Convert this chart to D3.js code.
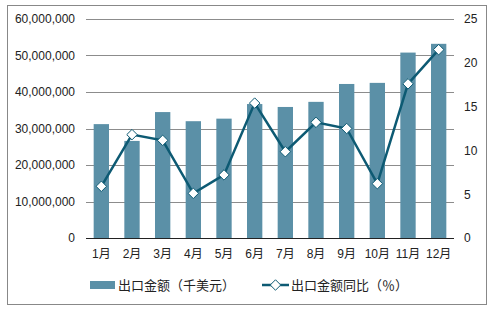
<!DOCTYPE html>
<html>
<head>
<meta charset="utf-8">
<script src="https://cdn.jsdelivr.net/npm/d3@7"></script>
<style>
  body { margin: 0; background: #fff; }
  text { font-family: Arial, "Liberation Sans", "Noto Sans CJK SC", sans-serif; fill: #222; }
  .legend-text { font-family: "Noto Sans CJK SC", sans-serif; }
</style>
</head>
<body>
<div id="chart"></div>
<script>
var months = ["1月", "2月", "3月", "4月", "5月", "6月", "7月", "8月", "9月", "10月", "11月", "12月"];
var exportValue = [31200000, 26600000, 34500000, 32000000, 32700000, 36700000, 35900000, 37300000, 42200000, 42500000, 50800000, 53200000];
var yoyGrowth = [5.9, 11.8, 11.15, 5.1, 7.2, 15.4, 9.85, 13.2, 12.5, 6.2, 17.6, 21.5];
var leftTicks = [0, 10000000, 20000000, 30000000, 40000000, 50000000, 60000000];
var rightTicks = [0, 5, 10, 15, 20, 25];
var barLabel = "出口金额（千美元）";
var lineLabel = "出口金额同比（％）";

var svgWidth = 491;
var svgHeight = 311;
var margin = { top: 19, right: 37, bottom: 73, left: 86 };
var width = svgWidth - margin.left - margin.right;
var height = svgHeight - margin.top - margin.bottom;

var barColor = "#5b90a7";
var lineColor = "#0d5a73";

var svg = d3.select("#chart")
  .append("svg")
  .attr("width", svgWidth)
  .attr("height", svgHeight);

// outer frame
svg.append("rect")
  .attr("x", 7.5)
  .attr("y", 5.5)
  .attr("width", 479)
  .attr("height", 299)
  .attr("fill", "none")
  .attr("stroke", "#888");

var chartGroup = svg.append("g")
  .attr("transform", `translate(${margin.left}, ${margin.top})`);

var x = d3.scaleBand()
  .domain(months)
  .range([0, width])
  .paddingInner(0.5)
  .paddingOuter(0.25);

var yLeft = d3.scaleLinear().domain([0, 60000000]).range([height, 0]);
var yRight = d3.scaleLinear().domain([0, 25]).range([height, 0]);

// gridlines
chartGroup.selectAll(".grid")
  .data(leftTicks.slice(1))
  .enter()
  .append("line")
  .attr("x1", 0)
  .attr("x2", width)
  .attr("y1", d => Math.round(yLeft(d)) + 0.5)
  .attr("y2", d => Math.round(yLeft(d)) + 0.5)
  .attr("stroke", "#8c8c8c")
  .attr("stroke-width", 1);

// left axis
var leftAxis = d3.axisLeft(yLeft)
  .tickValues(leftTicks)
  .tickSize(0)
  .tickPadding(11)
  .tickFormat(d3.format(","));
chartGroup.append("g")
  .call(leftAxis)
  .call(g => g.select(".domain").remove())
  .selectAll("text")
  .style("font-size", "12px");

// right axis
var rightAxis = d3.axisRight(yRight)
  .tickValues(rightTicks)
  .tickSize(0)
  .tickPadding(10);
chartGroup.append("g")
  .attr("transform", `translate(${width}, 0)`)
  .call(rightAxis)
  .call(g => g.select(".domain").remove())
  .selectAll("text")
  .style("font-size", "12px");

// bars
chartGroup.selectAll(".bar")
  .data(exportValue)
  .enter()
  .append("rect")
  .attr("x", (d, i) => x(months[i]))
  .attr("y", d => yLeft(d))
  .attr("width", x.bandwidth())
  .attr("height", d => height - yLeft(d))
  .attr("fill", barColor);

// baseline
chartGroup.append("line")
  .attr("x1", 0)
  .attr("x2", width)
  .attr("y1", height + 0.5)
  .attr("y2", height + 0.5)
  .attr("stroke", "#222")
  .attr("stroke-width", 1);

// x labels
var bottomAxis = d3.axisBottom(x).tickSize(0).tickPadding(11);
chartGroup.append("g")
  .attr("transform", `translate(0, ${height})`)
  .call(bottomAxis)
  .call(g => g.select(".domain").remove())
  .selectAll("text")
  .style("font-size", "12px");

// line
var line = d3.line()
  .x((d, i) => x(months[i]) + x.bandwidth() / 2)
  .y(d => yRight(d));

chartGroup.append("path")
  .datum(yoyGrowth)
  .attr("d", line)
  .attr("fill", "none")
  .attr("stroke", lineColor)
  .attr("stroke-width", 2.5);

var diamond = d3.symbol().type(d3.symbolDiamond2).size(70);
chartGroup.selectAll(".marker")
  .data(yoyGrowth)
  .enter()
  .append("path")
  .attr("d", diamond)
  .attr("transform", (d, i) => `translate(${x(months[i]) + x.bandwidth() / 2}, ${yRight(d)})`)
  .attr("fill", "#fff")
  .attr("stroke", lineColor)
  .attr("stroke-width", 1);

// legend
var legend = svg.append("g").attr("transform", "translate(0, 285)");
legend.append("rect")
  .attr("x", 90)
  .attr("y", -4)
  .attr("width", 25)
  .attr("height", 8)
  .attr("fill", barColor);
legend.append("text")
  .attr("class", "legend-text")
  .attr("x", 118)
  .attr("y", 0)
  .attr("dy", "0.35em")
  .style("font-size", "13px")
  .text(barLabel);

legend.append("line")
  .attr("x1", 262)
  .attr("x2", 289)
  .attr("y1", 0)
  .attr("y2", 0)
  .attr("stroke", lineColor)
  .attr("stroke-width", 2.5);
legend.append("path")
  .attr("d", diamond)
  .attr("transform", "translate(275.5, 0)")
  .attr("fill", "#fff")
  .attr("stroke", lineColor);
legend.append("text")
  .attr("class", "legend-text")
  .attr("x", 291)
  .attr("y", 0)
  .attr("dy", "0.35em")
  .style("font-size", "13px")
  .text(lineLabel);
</script>
</body>
</html>
